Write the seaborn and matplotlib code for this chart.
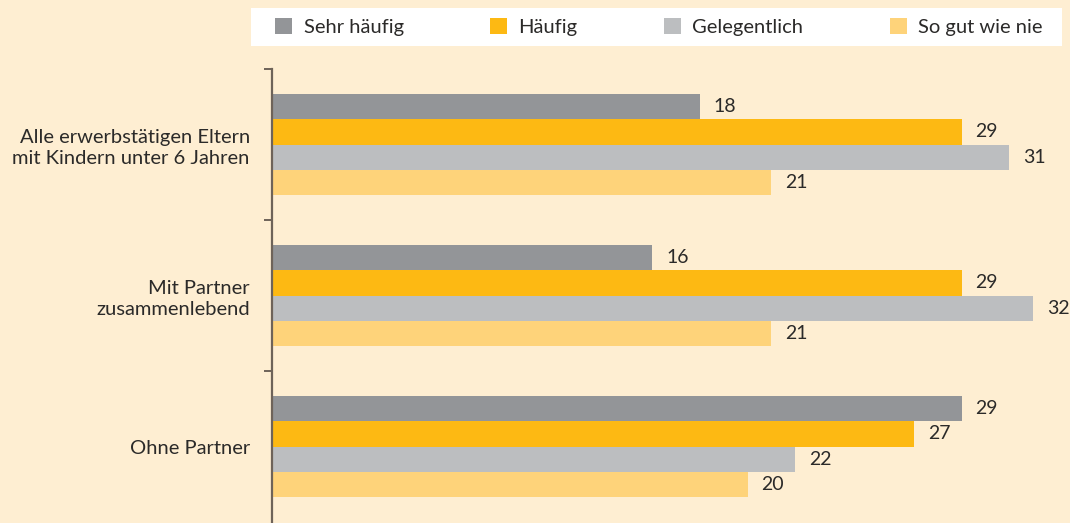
import matplotlib
matplotlib.use("Agg")
import matplotlib.pyplot as plt
import matplotlib.patches as mpatches
import seaborn as sns
import pandas as pd

categories = ["Alle erwerbstätigen Eltern\nmit Kindern unter 6 Jahren",
              "Mit Partner\nzusammenlebend",
              "Ohne Partner"]
series = ["Sehr häufig", "Häufig", "Gelegentlich", "So gut wie nie"]
sehr_haeufig = [18, 16, 29]
haeufig = [29, 29, 27]
gelegentlich = [31, 32, 22]
so_gut_wie_nie = [21, 21, 20]
colors = ["#939598", "#FDB913", "#BCBEC0", "#FED37A"]

values = [sehr_haeufig, haeufig, gelegentlich, so_gut_wie_nie]
rows = []
for s, vals in zip(series, values):
    for c, v in zip(categories, vals):
        rows.append({"cat": c, "series": s, "val": v})
df = pd.DataFrame(rows)

sns.set_theme(style="white")
plt.rcParams["font.family"] = ["Lato", "DejaVu Sans"]
bg = "#FEEED2"
text_color = "#2B2A29"
axis_color = "#6E6359"
fs = 14.5

fig = plt.figure(figsize=(10.70, 5.23), dpi=100, facecolor=bg)
ax = fig.add_axes([272 / 1070, 1 / 523, 1 - 272 / 1070, (522 - 69) / 523])
ax.set_facecolor(bg)

sns.barplot(data=df, y="cat", x="val", hue="series", orient="h",
            palette=colors, hue_order=series, order=categories,
            width=0.67, gap=0, saturation=1, linewidth=0, edgecolor="none",
            ax=ax, legend=False)

for cont in ax.containers:
    ax.bar_label(cont, padding=10, fontsize=14, color=text_color)

ax.set_xlim(0, (1070 - 272) / 23.78)
ax.set_ylim(2.5, -0.5)
ax.set_xlabel("")
ax.set_ylabel("")
ax.set_xticks([])
ax.set_yticks([0, 1, 2])
ax.set_yticklabels(categories, fontsize=fs, color=text_color, linespacing=1.3)
ax.set_yticks([-0.5, 0.5, 1.5], minor=True)
ax.tick_params(axis="y", which="major", length=0, pad=16)
ax.tick_params(axis="y", which="minor", length=5.5, width=1.4, color=axis_color, left=True)
for side in ["top", "right", "bottom"]:
    ax.spines[side].set_visible(False)
ax.spines["left"].set_color(axis_color)
ax.spines["left"].set_linewidth(1.6)

# legend box
fig.patches.append(mpatches.Rectangle((251 / 1070, 1 - 46 / 523), (1062 - 251) / 1070, 38 / 523,
                                      transform=fig.transFigure, facecolor="white",
                                      edgecolor="none", zorder=0))
handles = [mpatches.Patch(facecolor=c, edgecolor="none", label=s) for s, c in zip(series, colors)]
fig.legend(handles=handles, loc="center", bbox_to_anchor=(659 / 1070, 1 - 27 / 523),
           ncol=4, frameon=False, fontsize=fs, labelcolor=text_color,
           handlelength=0.85, handleheight=0.85, handletextpad=0.55, columnspacing=4.3)

fig.savefig("out.png", dpi=100, facecolor=bg)
